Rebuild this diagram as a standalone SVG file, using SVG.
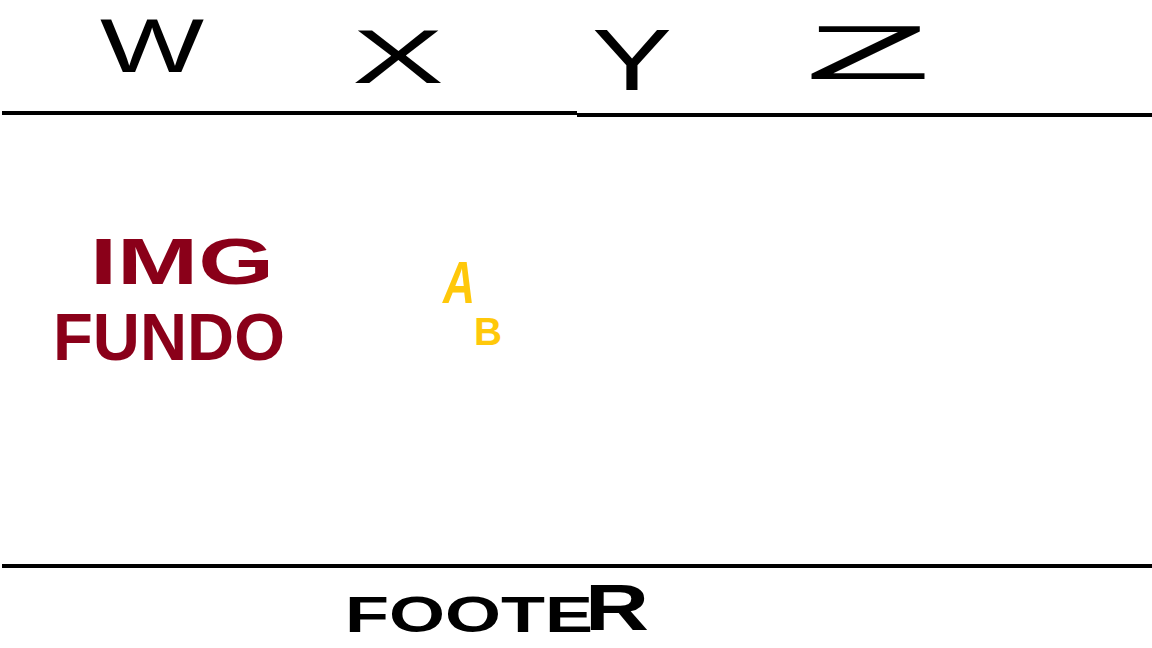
<svg xmlns="http://www.w3.org/2000/svg" width="1152" height="648" viewBox="0 0 1152 648">
<style>
.t{font-family:"Liberation Sans",Arial,sans-serif;}
.b{font-weight:bold;}
.k{fill:#000;}
.r{fill:#8a0019;}
.y{fill:#ffc80a;}
.ln{stroke:#000;stroke-width:4;fill:none;}
</style>
<rect width="1152" height="648" fill="#fff"/>
<g id="lines">
<line class="ln" x1="2" y1="113" x2="577" y2="113"/>
<line class="ln" x1="577" y1="115" x2="1152" y2="115"/>
<line class="ln" x1="2" y1="566" x2="1152" y2="566"/>
</g>
<g id="header">
<text class="t k" x="100" y="72" font-size="76" textLength="104" lengthAdjust="spacingAndGlyphs">W</text>
<text class="t k" x="352" y="83" font-size="76" textLength="92" lengthAdjust="spacingAndGlyphs">X</text>
<text class="t k" x="592" y="90" font-size="88" textLength="80" lengthAdjust="spacingAndGlyphs">Y</text>
<text class="t k" x="805" y="79" font-size="76" textLength="126" lengthAdjust="spacingAndGlyphs">Z</text>
</g>
<g id="img-fundo">
<text class="t b r" x="90" y="284" font-size="64" textLength="184" lengthAdjust="spacingAndGlyphs">IMG</text>
<text class="t b r" x="53" y="360" font-size="66" textLength="232" lengthAdjust="spacingAndGlyphs">FUNDO</text>
</g>
<g id="ab">
<text class="t y" x="443" y="303" font-size="60" font-style="italic" font-weight="bold" textLength="32" lengthAdjust="spacingAndGlyphs">A</text>
<text class="t b y" x="474" y="345" font-size="38" textLength="28" lengthAdjust="spacingAndGlyphs">B</text>
</g>
<g id="footer">
<text class="t b k" x="345" y="632" font-size="50" textLength="248" lengthAdjust="spacingAndGlyphs">FOOTE</text>
<text class="t b k" x="585" y="630" font-size="64" textLength="64" lengthAdjust="spacingAndGlyphs">R</text>
</g>
</svg>
